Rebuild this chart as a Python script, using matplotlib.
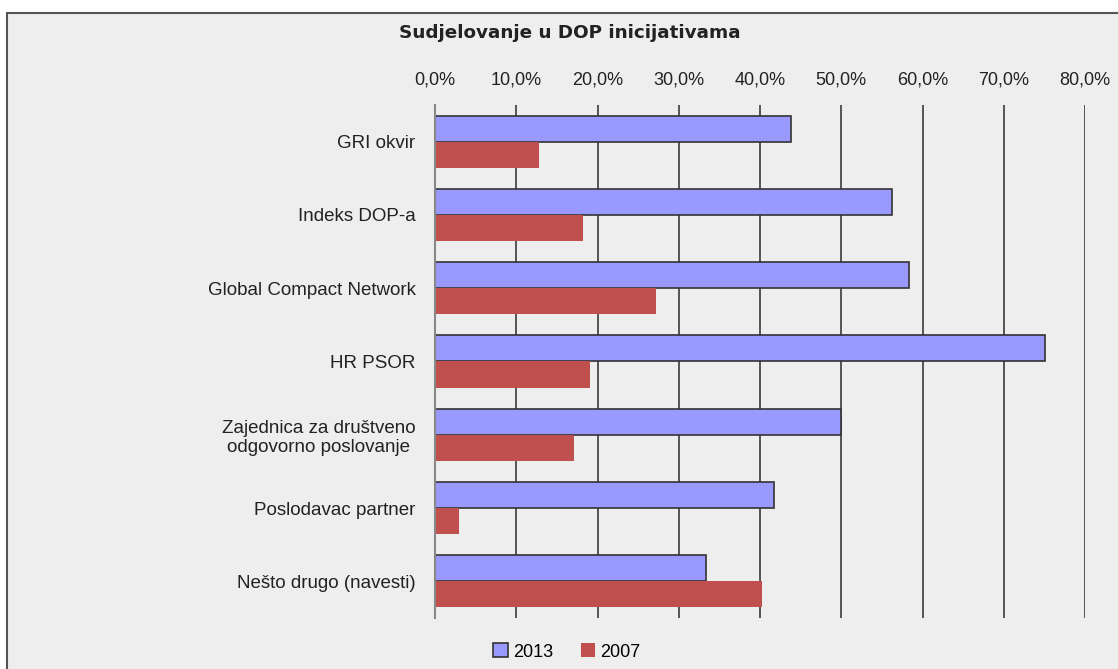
import numpy as np
import matplotlib.pyplot as plt
from matplotlib.patches import Rectangle
from matplotlib.ticker import FuncFormatter

plt.rcParams['font.family'] = ['Liberation Sans', 'DejaVu Sans']

categories = ["GRI okvir", "Indeks DOP-a", "Global Compact Network", "HR PSOR",
              "Zajednica za društveno\nodgovorno poslovanje", "Poslodavac partner",
              "Nešto drugo (navesti)"]
v2013 = [43.8, 56.2, 58.3, 75.1, 50.0, 41.7, 33.4]
v2007 = [12.8, 18.2, 27.2, 19.1, 17.1, 3.0, 40.2]
xticks = [0, 10, 20, 30, 40, 50, 60, 70, 80]

fig = plt.figure(figsize=(11.18, 6.69), dpi=100)
fig.patch.set_facecolor('white')
# chart area frame
frame = Rectangle((7/1118, -0.01), 1.02, 1 - 13/669 + 0.01,
                  transform=fig.transFigure, facecolor='#eeeeee',
                  edgecolor='#555555', lw=1.5, zorder=-10)
fig.add_artist(frame)

ax = fig.add_axes([435/1118, 1 - 618/669, 650/1118, 513/669])
ax.set_facecolor('none')

y = np.arange(len(categories))
h = 0.355
ax.barh(y - h/2, v2013, height=h, color='#9999ff', edgecolor='#333333', lw=1.2,
        label='2013', zorder=3)
ax.barh(y + h/2, v2007, height=h, color='#c0504d', edgecolor='none',
        label='2007', zorder=3)

ax.set_xlim(0, 80)
ax.set_ylim(len(categories) - 0.5, -0.5)
ax.set_xticks(xticks)
ax.xaxis.set_major_formatter(FuncFormatter(lambda v, p: f"{v:.1f}%".replace('.', ',')))
ax.xaxis.tick_top()
ax.tick_params(axis='x', length=0, pad=12, labelsize=13, colors='#222222')
ax.set_yticks(y)
ax.set_yticklabels(categories, fontsize=13.5, color='#222222')
for t in ax.get_yticklabels():
    t.set_multialignment('center')
ax.tick_params(axis='y', length=0, pad=14)

for xv in xticks[1:]:
    ax.axvline(xv, color='#3a3a3a', lw=1.2, zorder=1)
for s in ['top', 'right', 'bottom']:
    ax.spines[s].set_visible(False)
ax.spines['left'].set_color('#888888')
ax.spines['left'].set_linewidth(1.5)
ax.spines['left'].set_zorder(4)

fig.text(399/1118, 1 - 33/669, "Sudjelovanje u DOP inicijativama", fontsize=13.2,
         fontweight='bold', color='#222222', va='center', ha='left',
         family='DejaVu Sans')

leg = fig.legend(loc='center', bbox_to_anchor=(567/1118, 1 - 652/669), ncol=2,
                 frameon=False, fontsize=13, handlelength=0.8, handleheight=0.8,
                 handletextpad=0.3, columnspacing=1.5)

fig.savefig('out.png', dpi=100, facecolor=fig.get_facecolor())
